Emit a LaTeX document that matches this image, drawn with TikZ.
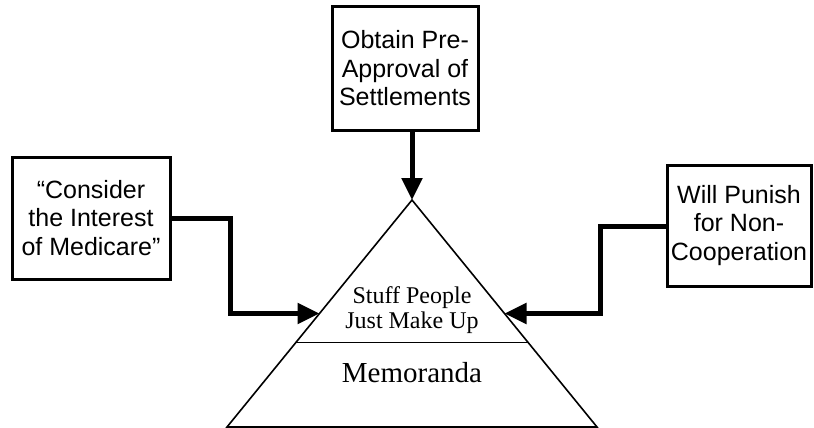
\documentclass[tikz,border=0pt]{standalone}
\usepackage{fontspec}
\setmainfont{Liberation Serif}
\setsansfont{Liberation Sans}
\usetikzlibrary{arrows.meta,calc}
\tikzset{
	rulebox/.style={
			draw, line width=3pt, align=center, inner sep=0pt,
			font=\sffamily\fontsize{25}{28.5}\selectfont
		},
	feed/.style={
			line width=5pt, -{Triangle[length=22pt,width=20pt]}
		}
}

\begin{document}
\begin{tikzpicture}[x=1pt,y=-1pt]
            \useasboundingbox (0,0) rectangle (814,428);
            \coordinate (apex) at (412,200);
            \coordinate (bl) at (227,427);
            \coordinate (br) at (597,427);
            \draw[line width=1.6pt] (apex) -- (bl) -- (br) -- cycle;
            \draw[line width=1pt] ($(apex)!0.6256!(bl)$) coordinate (dl) -- ($(apex)!0.6256!(br)$) coordinate (dr);
            \coordinate (tipl) at ($(apex)!0.5!(bl)$);
            \coordinate (tipr) at ($(apex)!0.5!(br)$);
            \node[align=center,font=\fontsize{24}{25}\selectfont] (stuff) at (412,310) {Stuff People\\Just Make Up};
            \node[font=\fontsize{29}{30}\selectfont] (memo) at (412,373) {Memoranda};
            \node[rulebox,minimum width=146pt,minimum height=123pt] (pre) at (405,68.5) {Obtain Pre-\\Approval of\\Settlements};
            \node[rulebox,minimum width=158pt,minimum height=122pt] (medi) at (91,218) {``Consider\\the Interest\\of Medicare''};
            \node[rulebox,minimum width=144pt,minimum height=121pt] (pun) at (739,225.5) {Will Punish\\for Non-\\Cooperation};
            \draw[feed] (pre.south -| apex) -- (apex);
            \draw[feed] (medi.east) -| (230,313.5) -- (tipl);
            \draw[feed] (pun.west |- 0,226) -- (600,226) |- (tipr);
        \end{tikzpicture}
\end{document}
